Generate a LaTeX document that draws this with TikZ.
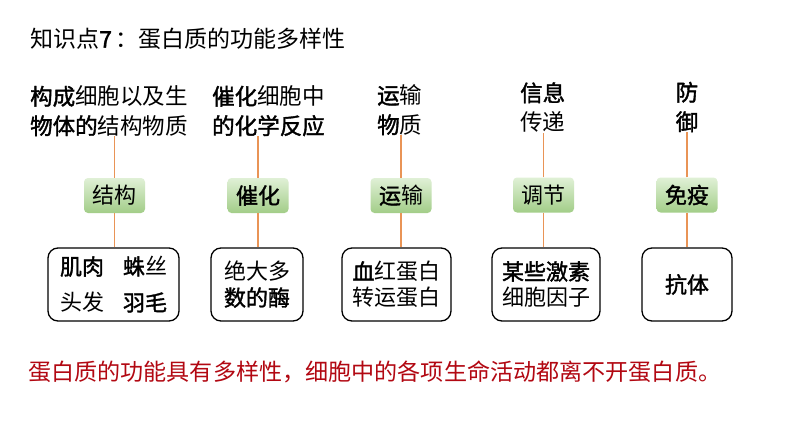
\documentclass[tikz,border=0pt]{standalone}
\usepackage{fontspec}
\setmainfont{Noto Sans CJK SC}[BoldFont={Noto Sans CJK SC}, BoldFeatures={FakeBold=1.6}]
\definecolor{linkc}{RGB}{233,148,86}
\definecolor{gtop}{RGB}{224,240,214}
\definecolor{gbot}{RGB}{162,205,136}
\definecolor{redtxt}{RGB}{178,8,18}
\tikzset{
  lbl/.style={font=\fontsize{22.5}{29.5}\selectfont, align=left, inner sep=0pt},
  cat/.style={rounded corners=4pt, minimum width=61pt, minimum height=35pt, inner sep=0pt,
    top color=gtop, bottom color=gbot, font=\fontsize{22}{26}\selectfont},
  ex/.style={draw=black, line width=1.3pt, rounded corners=10pt, minimum height=73pt,
    inner sep=0pt, align=center, font=\fontsize{22}{26}\selectfont},
  link/.style={draw=linkc, line width=1.4pt}
}
\begin{document}
\begin{tikzpicture}[x=1pt,y=-1pt]
\fill[white] (0,0) rectangle (794,447);
\useasboundingbox (0,0) rectangle (794,447);

% title
\node[anchor=west, inner sep=0pt, font=\fontsize{23}{27}\selectfont] (title) at (30,39)
  {知识点\textbf{7}\,：蛋白质的功能多样性};

% top labels
\node[lbl, anchor=west] (t1) at (30,111) {\textbf{构成}细胞以及生\\\textbf{物体的}结构物质};
\node[lbl, anchor=west] (t2) at (212,111) {\textbf{催化}细胞中\\\textbf{的化学反应}};
\node[lbl, anchor=west] (t3) at (377,110) {\textbf{运}输\\\textbf{物}质};
\node[lbl, anchor=west] (t4) at (520,107.5) {\textbf{信息}\\传递};
\node[lbl] (t5) at (687,107) {\textbf{防}\\\textbf{御}};

% category boxes
\node[cat] (g1) at (114.5,195.5) {结构};
\node[cat] (g2) at (258,195.5) {\textbf{催化}};
\node[cat] (g3) at (401,195.5) {\textbf{运}输};
\node[cat] (g4) at (543.5,195) {调节};
\node[cat] (g5) at (687,195) {\textbf{免疫}};

% example boxes
\node[ex, minimum width=131pt, font=\fontsize{22}{36}\selectfont] (b1) at (113.5,284.5)
  {\textbf{肌肉}\hspace{19pt}\textbf{蛛}丝\\头发\hspace{19pt}\textbf{羽毛}};
\node[ex, minimum width=92pt] (b2) at (257,284.5) {绝大多\\\textbf{数的酶}};
\node[ex, minimum width=109pt] (b3) at (396.5,284.5) {\textbf{血}红蛋白\\转运蛋白};
\node[ex, minimum width=108pt] (b4) at (546,284.5) {\textbf{某些激素}\\细胞因子};
\node[ex, minimum width=90pt] (b5) at (687,284.5) {\textbf{抗体}};

% connectors
\foreach \i in {1,...,5}{
  \draw[link] (g\i.north) -- (g\i.north |- t\i.south);
  \draw[link] (g\i.south) -- (g\i.south |- b\i.north);
}

% conclusion
\node[anchor=west, inner sep=0pt, text=redtxt, font=\fontsize{23.1}{28}\selectfont] (concl) at (28,372)
  {蛋白质的功能具有多样性，细胞中的各项生命活动都离不开蛋白质。};
\end{tikzpicture}
\end{document}
